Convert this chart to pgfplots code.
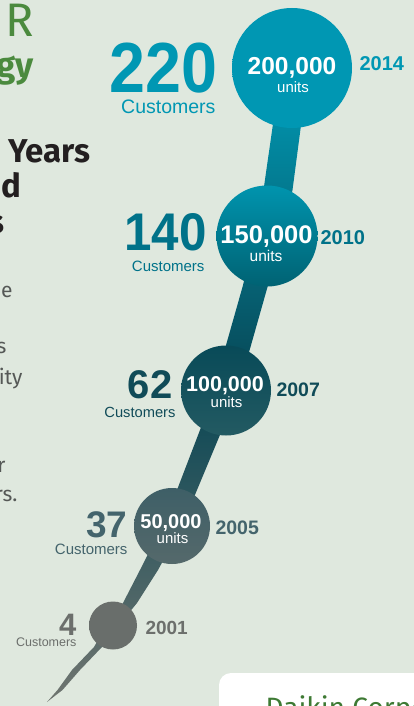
\documentclass[border=0pt]{standalone}
\usepackage{pgfplots}
\pgfplotsset{compat=1.18}
\usepackage{graphicx}
\usepackage{fontspec}
\setmainfont{Liberation Sans}
\newfontfamily\din{Fira Sans}

\definecolor{bg}{RGB}{223,232,222}
\definecolor{greenT}{RGB}{75,138,62}
\definecolor{darkT}{RGB}{35,31,32}
\definecolor{paraT}{RGB}{85,88,86}
\definecolor{bandTop}{RGB}{0,155,182}
\definecolor{bandMid}{RGB}{8,70,84}
\definecolor{bandBot}{RGB}{112,117,112}
\definecolor{c14}{RGB}{0,151,179}
\definecolor{c10a}{RGB}{0,148,174}
\definecolor{c10b}{RGB}{0,98,115}
\definecolor{c07a}{RGB}{8,74,88}
\definecolor{c07b}{RGB}{35,90,98}
\definecolor{c05a}{RGB}{62,95,103}
\definecolor{c05b}{RGB}{85,105,107}
\definecolor{c01}{RGB}{105,110,107}
\definecolor{t14}{RGB}{0,151,179}
\definecolor{t10}{RGB}{0,114,137}
\definecolor{t07}{RGB}{16,75,88}
\definecolor{t05}{RGB}{68,100,108}
\definecolor{t01}{RGB}{108,111,108}
\definecolor{boxT}{RGB}{62,122,52}

\newcommand{\fs}[1]{\fontsize{#1bp}{#1bp}\selectfont}

\pgfplotsset{
    bubble/.style n args={3}{draw=none, mark=none, nodes near coords={},
        nodes near coords style={circle, inner sep=0pt, minimum size=#1, anchor=center, draw=none, top color=#2, bottom color=#3}},
    inlabel/.style={draw=none, mark=none, nodes near coords={#1},
        nodes near coords style={anchor=base, inner sep=0pt, text=white}},
}

\begin{document}
\begin{tikzpicture}
\path[use as bounding box] (0,0) rectangle (414bp,706bp);
\clip (0,0) rectangle (414bp,706bp);
\fill[bg] (0,0) rectangle (414bp,706bp);
\begin{axis}[
    at={(0,0)}, anchor=south west,
    width=414bp, height=706bp, scale only axis,
    xmin=0, xmax=414, ymin=0, ymax=706,
    y dir=reverse,
    axis lines=none, enlargelimits=false, clip=false,
    every node/.append style={inner sep=0pt, outer sep=0pt},
]
% the growing stem (left edge bottom-up, right edge top-down)
\addplot[draw=none, top color=bandTop, bottom color=bandBot, middle color=bandMid] coordinates {
    (47,702) (57.5,690) (72,670) (94,647) (107,625) (123,603) (140,570)
    (162,526) (177,490) (200,430) (214,390) (225.5,347) (242.5,287)
    (255.5,236) (263.5,190) (275,110) (281,68)
    (309,68) (303,110) (292.5,190) (282.5,236) (267.5,287) (250.5,347)
    (238,390) (222,430) (197,490) (182,526) (158,570) (137,603) (119,625)
    (102,647) (80,670) (62.5,690) (47,702)
};

% bubbles: year positions, size grows with units sold
\addplot[bubble={48bp}{c01}{c01}] coordinates {(113,625.5)};
\addplot[bubble={76bp}{c05a}{c05b}] coordinates {(172,526)};
\addplot[bubble={90bp}{c07a}{c07b}] coordinates {(226,390.5)};
\addplot[bubble={101bp}{c10a}{c10b}] coordinates {(267,236)};
\addplot[bubble={120bp}{c14}{c14}] coordinates {(292,68)};

% units inside the bubbles
\addplot[inlabel={\fs{24.5}\bfseries 200,000}] coordinates {(292,75)};
\addplot[inlabel={\fs{15}units}] coordinates {(293,93)};
\addplot[inlabel={\fs{25.5}\bfseries 150,000}] coordinates {(266.5,243)};
\addplot[inlabel={\fs{15.5}units}] coordinates {(266,261)};
\addplot[inlabel={\fs{21.5}\bfseries 100,000}] coordinates {(225,391)};
\addplot[inlabel={\fs{15}units}] coordinates {(226.5,407)};
\addplot[inlabel={\fs{20}\bfseries 50,000}] coordinates {(171,528)};
\addplot[inlabel={\fs{15}units}] coordinates {(172.5,543)};

% 2014
\node[anchor=base east, text=t14] at (axis cs:221,93) {\scalebox{0.91}[1]{\fs{71}\bfseries 220}};
\node[anchor=base east, text=t14] at (axis cs:219,114) {\fs{19.5}Customers};
\node[anchor=base west, text=t14] at (axis cs:356,71) {\fs{20}\bfseries 2014};
% 2010
\node[anchor=base east, text=t10] at (axis cs:210,250) {\scalebox{0.93}[1]{\fs{53}\bfseries 140}};
\node[anchor=base east, text=t10] at (axis cs:208,271) {\fs{15}Customers};
\node[anchor=base west, text=t10] at (axis cs:317,244) {\fs{20}\bfseries 2010};
% 2007
\node[anchor=base east, text=t07] at (axis cs:176,398) {\fs{40}\bfseries 62};
\node[anchor=base east, text=t07] at (axis cs:179,417) {\fs{14.7}Customers};
\node[anchor=base west, text=t07] at (axis cs:273,396) {\fs{19.5}\bfseries 2007};
% 2005
\node[anchor=base east, text=t05] at (axis cs:131,537) {\fs{37}\bfseries 37};
\node[anchor=base east, text=t05] at (axis cs:131,554) {\fs{15}Customers};
\node[anchor=base west, text=t05] at (axis cs:212,534) {\fs{19.5}\bfseries 2005};
% 2001
\node[anchor=base east, text=t01] at (axis cs:80,635) {\fs{31}\bfseries 4};
\node[anchor=base east, text=t01] at (axis cs:80,646) {\fs{12.5}Customers};
\node[anchor=base west, text=t01] at (axis cs:142,634) {\fs{19}\bfseries 2001};

% cropped page text on the left
\node[anchor=base east, text=greenT] at (axis cs:37,37) {\din\fs{47}R};
\node[anchor=base east, text=greenT] at (axis cs:37,78) {\din\fs{35}\bfseries gy};
\node[anchor=base east, text=darkT] at (axis cs:94,162) {\din\fs{33}\bfseries Years};
\node[anchor=base east, text=darkT] at (axis cs:25,197) {\din\fs{33}\bfseries nd};
\node[anchor=base east, text=darkT] at (axis cs:8,233) {\din\fs{33}\bfseries s};
\node[anchor=base east, text=paraT] at (axis cs:16,297) {\din\fs{21}he};
\node[anchor=base east, text=paraT] at (axis cs:10,353) {\din\fs{21}s};
\node[anchor=base east, text=paraT] at (axis cs:26,384) {\din\fs{21}ity};
\node[anchor=base east, text=paraT] at (axis cs:9,472) {\din\fs{21}r};
\node[anchor=base east, text=paraT] at (axis cs:21,501) {\din\fs{21}rs.};

% white panel bottom right
\fill[white, rounded corners=12bp] (axis cs:219,673) rectangle (axis cs:460,760);
\node[anchor=base west, text=boxT] at (axis cs:262,717) {\din\fs{28}Daikin Corporation};
\end{axis}
\end{tikzpicture}
\end{document}
